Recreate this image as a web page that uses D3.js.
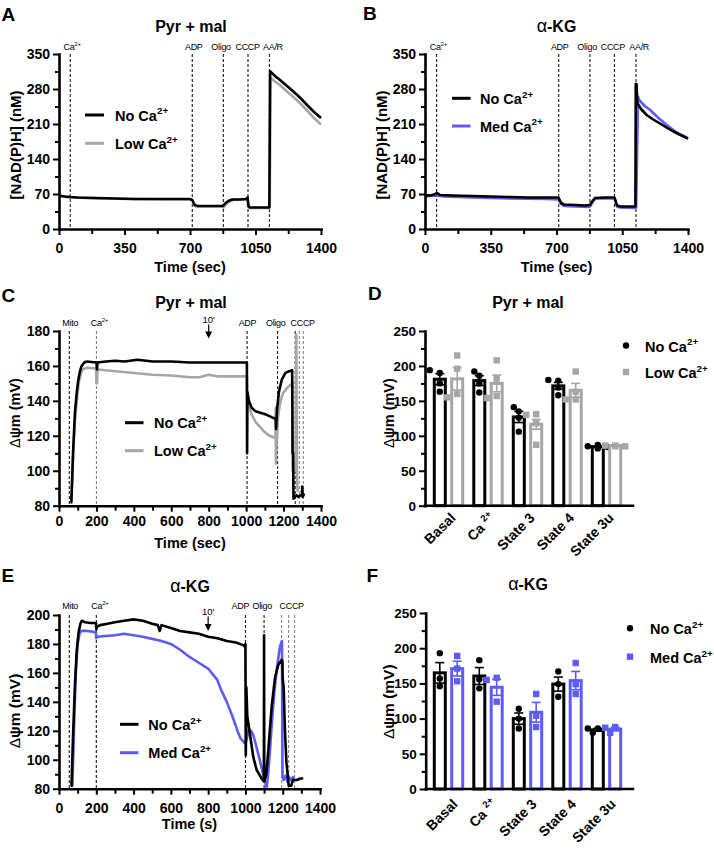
<!DOCTYPE html>
<html><head><meta charset="utf-8">
<script src="https://cdn.jsdelivr.net/npm/d3@7"></script>
<style>body{margin:0;background:#fff}svg{display:block}</style>
</head><body><svg id="fig" width="714" height="849"></svg>
<script>
// ---------------- DATA ----------------
// Panel A: NAD(P)H, Pyr + mal  [time s, nM]
const nadhPyrNoCa = [[0,67],[30,65],[60,64],[100,63],[200,62],[300,61],[400,60],[500,60],[600,60],[700,60],[712,58],[725,48],[740,46],[800,46],[870,46],[878,47],[890,52],[905,56],[925,59],[960,59],[1000,60],[1008,63],[1012,46],[1020,43],[1060,43],[1120,43],[1124,44],[1128,316],[1140,311],[1160,304],[1181,298],[1215,287],[1252,275],[1290,262],[1323,249],[1360,235],[1400,222]];
const nadhPyrLowCa = [[0,66],[60,63],[200,61],[400,60],[600,59],[700,59],[712,57],[725,47],[740,45],[870,45],[880,43],[895,50],[910,55],[930,58],[1000,59],[1008,61],[1012,45],[1020,42],[1120,42],[1126,43],[1130,303],[1150,296],[1181,288],[1215,276],[1252,264],[1290,251],[1323,238],[1360,223],[1400,209]];
// Panel B: NAD(P)H, alpha-KG
const nadhKgNoCa = [[0,68],[30,67],[55,70],[65,72],[80,68],[150,67],[250,66],[350,65],[450,64],[550,63],[650,63],[700,63],[712,62],[725,52],[740,49],[800,48],[850,47],[878,48],[890,55],[905,62],[950,63],[1005,63],[1010,62],[1022,47],[1040,45],[1100,45],[1120,45],[1122,290],[1126,290],[1130,252],[1150,240],[1180,228],[1215,219],[1251,211],[1290,202],[1322,195],[1360,188],[1400,181]];
const nadhKgMedCa = [[0,65],[60,67],[100,65],[250,63],[450,61],[650,60],[710,59],[725,50],[740,46],[800,45],[870,44],[880,46],[895,56],[910,61],[1005,61],[1012,58],[1022,45],[1040,43],[1120,42],[1124,44],[1134,265],[1140,258],[1170,246],[1199,238],[1240,223],[1287,208],[1340,193],[1400,181]];
// Panel C: membrane potential, Pyr + mal [time s, mV]
const dpsiPyrNoCa = [[62,82],[66,82],[75,110],[85,133],[95,145],[103,152],[112,157],[121,160],[135,162],[148,162.5],[200,162],[203,158],[206,162],[250,162.5],[300,163],[350,162.5],[420,163.5],[500,162.5],[600,162.5],[700,162],[800,162],[900,162],[1000,162],[1004,162],[1005,110],[1007,145],[1015,140],[1030,136],[1050,134],[1080,133],[1110,132],[1150,130],[1158,130],[1160,124],[1165,135],[1175,145],[1190,152],[1210,156],[1230,157],[1246,157.5],[1248,110],[1251,110],[1253,84],[1260,85],[1270,86],[1280,85],[1290,86],[1298,86],[1300,91],[1302,85],[1310,87]];
const dpsiPyrLowCa = [[62,82],[66,82],[75,108],[85,128],[95,140],[105,150],[115,155],[125,158],[150,159],[198,158.5],[200,150],[203,150],[206,158],[250,157.5],[300,157],[400,156],[500,155],[600,154.5],[700,153.5],[750,153.5],[800,155],[850,154],[900,154],[1000,154],[1004,154],[1006,140],[1015,137],[1030,132],[1050,128],[1075,125],[1100,122],[1125,120],[1150,119],[1157,119],[1158,136],[1159,104],[1162,115],[1170,130],[1180,138],[1195,144],[1215,147],[1235,149],[1247,150],[1249,100],[1265,100],[1268,178],[1271,100],[1275,88]];
// Panel E: membrane potential, alpha-KG
const dpsiKgNoCa = [[63,82],[67,82],[75,115],[85,150],[95,175],[105,188],[115,194],[122,196],[140,195],[170,194.5],[198,194.5],[200,190],[205,192],[220,193],[260,194],[300,195],[350,196],[400,197],[450,196],[500,194],[530,193],[540,189],[550,193],[600,191],[650,189],[700,188],[750,187],[800,185],[850,184],[900,182],[950,181],[990,179],[998,178],[1000,180],[1002,103],[1005,150],[1010,130],[1024,118],[1042,102],[1060,93],[1087,87],[1099,85],[1100,186],[1101,85],[1112,90],[1123,107],[1141,137],[1159,157],[1176,165.5],[1194,169],[1198,168],[1200,156],[1205,150],[1212,120],[1220,98],[1228,88],[1232,82],[1245,82],[1255,86],[1275,86],[1295,87],[1310,87]];
const dpsiKgMedCa = [[68,82],[72,82],[80,120],[90,160],[100,180],[110,187],[120,189],[150,189],[180,188.5],[198,188],[200,184],[205,185],[250,185.5],[300,186],[350,187],[400,186],[450,185],[500,183.5],[550,182],[600,180],[650,176],[700,171],[750,167],[800,163],[850,155],[867,149],[900,140],[933,129],[960,119],[973,115],[1000,111],[1010,116],[1018,121],[1030,120],[1042,117],[1055,111],[1069,104],[1082,97],[1096,89.5],[1114,80.5],[1123,92],[1132,107],[1141,124],[1150,139],[1159,152],[1168,162],[1177,171],[1185,178],[1194,181.6],[1196,182],[1199,88],[1205,86],[1215,89],[1225,85],[1235,88],[1245,86],[1255,88],[1260,86]];

// Bar charts
const categories = ["Basal","Ca ^2+","State 3","State 4","State 3u"];
// Panel D (Pyr + mal)
const pyrNoCaMean = [181,179,127,171.5,84.5];
const pyrNoCaSem  = [8,7,8,5,1];
const pyrNoCaPts  = [[190,194,175,163],[186,192,175,162],[135,141,126,106],[179,180,169,158],[87,85,84,82]];
const pyrLowCaMean = [181.5,175,116.5,165,86];
const pyrLowCaSem  = [16,12,7,10,0.5];
const pyrLowCaPts  = [[215,196,160,155],[208,182,157,154],[131,130,118,87],[192,163,152,152],[86,86,85,85]];
// Panel F (alpha-KG)
const kgNoCaMean = [165,160.5,100,149,84];
const kgNoCaSem  = [14.5,12,8,10,2];
const kgNoCaPts  = [[193,157,146],[183,156,143],[114,100,86],[167,149,131],[86,86,80]];
const kgMedCaMean = [171,144.5,109,154,85];
const kgMedCaSem  = [10.5,11.5,14,13,2.5];
const kgMedCaPts  = [[189,171,153],[158,155,124],[135,104,88],[179,149,135],[88,87,80]];

// Ticks
const nadhTicks = [0,70,140,210,280,350];
const nadhTimeTicks = [0,350,700,1050,1400];
const dpsiPyrTicks = [80,100,120,140,160,180];
const dpsiKgTicks = [80,100,120,140,160,180,200];
const timeTicks = [0,200,400,600,800,1000,1200,1400];
const barTicks = [0,50,100,150,200,250];

// Events
const eventsA = [{t:60,l:"Ca^2+",lt:70},{t:712,l:"ADP",lt:720},{t:878,l:"Oligo",lt:866},{t:1010,l:"CCCP",lt:1008},{t:1124,l:"AA/R",lt:1143}];
const eventsB = [{t:62,l:"Ca^2+",lt:71},{t:712,l:"ADP",lt:717},{t:878,l:"Oligo",lt:863},{t:1008,l:"CCCP",lt:1000},{t:1123,l:"AA/R",lt:1140}];
const eventsC = [{t:55,l:"Mito",lt:60},{t:200,l:"Ca^2+",lt:216,c:"#777"},{t:1005,l:"ADP",lt:1007},{t:1168,l:"Oligo",lt:1158},{t:1262},{t:1284,c:"#777"},{t:1305,l:"CCCP",lt:1302,c:"#777"}];
const eventsE = [{t:55,l:"Mito",lt:60},{t:200,l:"Ca^2+",lt:220},{t:1000,l:"ADP",lt:973},{t:1100,l:"Oligo",lt:1090},{t:1194,c:"#777"},{t:1232,l:"CCCP",lt:1248,c:"#777"},{t:1264,c:"#777"}];

// ---------------- DRAWING ----------------
const FONT = '"Liberation Sans", Arial, Helvetica, sans-serif';
const BLACK = "#000", GREY = "#a6a6a6", BLUE = "#5c5cf6";
const svg = d3.select("#fig").attr("font-family", FONT);
svg.append("rect").attr("width",714).attr("height",849).attr("fill","#fff");

function parse(s){ const [a,b] = s.split("^"); return b!==undefined ? [a,{t:b,sup:true}] : [a]; }
function txt(g, x, y, parts, o){
  const t = g.append("text").attr("x",x).attr("y",y).attr("font-size",o.fs)
    .attr("font-weight",o.bold?"bold":"normal").attr("text-anchor",o.anchor||"start").attr("fill",o.fill||"#000");
  if (o.rotate) t.attr("transform",`rotate(${o.rotate},${x},${y})`);
  if (o.ls) t.attr("letter-spacing", o.ls);
  let shift = 0;
  parts.forEach(p => {
    if (typeof p === "string") p = {t:p};
    const s = t.append("tspan").text(p.t);
    if (p.sup) { s.attr("font-size", o.fs*0.68).attr("dy", -o.fs*0.42); shift = o.fs*0.42; }
    else if (shift) { s.attr("dy", shift); shift = 0; }
    if (p.w) s.attr("font-weight", p.w);
    if (p.fs) s.attr("font-size", p.fs);
  });
  return t;
}
const fmt = d => String(d);
function styleAxis(a, fs){
  a.attr("font-family",FONT).attr("font-size",fs).attr("font-weight","bold");
  a.selectAll(".domain").attr("stroke-width",2.6).attr("stroke-linecap","square");
  a.selectAll(".tick line").attr("stroke-width",2);
  a.selectAll("text").attr("fill","#000");
}
function yAxis(g, y, x0, ticks, minor, fs, pad){
  const a = g.append("g").attr("transform",`translate(${x0},0)`)
    .call(d3.axisLeft(y).tickValues(ticks).tickFormat(fmt).tickSize(6).tickSizeOuter(0).tickPadding(pad));
  styleAxis(a, fs);
  const m = g.append("g").attr("transform",`translate(${x0},0)`)
    .call(d3.axisLeft(y).tickValues(minor).tickSize(4).tickFormat(""));
  m.select(".domain").remove(); m.selectAll(".tick line").attr("stroke-width",2);
}
function xAxis(g, x, yb, ticks, minor, fs, pad){
  const a = g.append("g").attr("transform",`translate(0,${yb})`)
    .call(d3.axisBottom(x).tickValues(ticks).tickFormat(fmt).tickSize(6).tickSizeOuter(0).tickPadding(pad));
  styleAxis(a, fs);
  if (minor){
    const m = g.append("g").attr("transform",`translate(0,${yb})`)
      .call(d3.axisBottom(x).tickValues(minor).tickSize(5).tickFormat(""));
    m.select(".domain").remove(); m.selectAll(".tick line").attr("stroke-width",2);
  }
}
function minorOf(ticks, n){ const r=[]; for(let i=0;i<ticks.length-1;i++){ const s=(ticks[i+1]-ticks[i])/n; for(let k=1;k<n;k++) r.push(ticks[i]+k*s);} return r; }
function yTitle(g, x, y, kind, fs){
  if (kind==="nadh") txt(g, x, y, ["[NAD(P)H] (nM)"], {fs, bold:true, anchor:"middle", rotate:-90});
  else txt(g, x, y, [{t:"Δ",w:"normal"},"ψm (mV)"], {fs, bold:true, anchor:"middle", rotate:-90});
}
function title(g, x, y, kind){
  if (kind==="kg") txt(g, x, y, [{t:"α",w:"normal",fs:18},"-KG"], {fs:16, bold:true, anchor:"middle"});
  else txt(g, x, y, ["Pyr + mal"], {fs:16, bold:true, anchor:"middle"});
}

function linePanel(p){
  const g = svg.append("g");
  const x = d3.scaleLinear().domain(p.xDomain).range([p.x0,p.x1]);
  const y = d3.scaleLinear().domain(p.yDomain).range([p.yBot,p.yTop]);
  p.events.forEach(e => {
    g.append("line").attr("x1",x(e.t)).attr("x2",x(e.t)).attr("y1",p.yTop).attr("y2",p.yBot)
      .attr("stroke",e.c||"#000").attr("stroke-width",1).attr("stroke-dasharray","3,2");
    if (e.l) txt(g, x(e.lt ?? e.t), p.yTop + p.evDy, parse(e.l), {fs:9, anchor:"middle", ls:-0.3});
  });
  if (p.arrow){
    const ax = x(p.arrow.t);
    txt(g, ax, p.arrow.ly, ["10'"], {fs:9.5, anchor:"middle"});
    g.append("line").attr("x1",ax).attr("x2",ax).attr("y1",p.arrow.y1).attr("y2",p.arrow.y2-5).attr("stroke","#000").attr("stroke-width",1.2);
    g.append("path").attr("d",`M${ax-3.5},${p.arrow.y2-7}L${ax+3.5},${p.arrow.y2-7}L${ax},${p.arrow.y2}Z`).attr("fill","#000");
  }
  const line = d3.line().x(d=>x(d[0])).y(d=>y(d[1]));
  p.series.forEach(s => g.append("path").datum(s.data).attr("d",line).attr("fill","none")
    .attr("stroke",s.color).attr("stroke-width",2.6).attr("stroke-linejoin","round"));
  yAxis(g, y, p.x0, p.yTicks, minorOf(p.yTicks,2), 14, 3);
  xAxis(g, x, p.yBot, p.xTicks, minorOf(p.xTicks,2), 14, p.xPad);
  p.legend.items.forEach((it,i) => {
    const ly = p.legend.y + i*p.legend.dy;
    g.append("line").attr("x1",p.legend.x).attr("x2",p.legend.x+p.legend.len).attr("y1",ly).attr("y2",ly)
      .attr("stroke",it.color).attr("stroke-width",3);
    txt(g, p.legend.tx, ly+5.5, parse(it.label), {fs:14.5, bold:true});
  });
  title(g, p.titleX, p.titleY, p.kind);
  yTitle(g, p.ytX, p.ytY, p.ytKind, p.ytFs);
  txt(g, (p.x0+p.x1)/2, p.xtY, [p.xTitle], {fs:14.5, bold:true, anchor:"middle"});
  txt(g, p.letter.x, p.letter.y, [p.letter.t], {fs:19, bold:true});
}

function barPanel(p){
  const g = svg.append("g");
  const band = d3.scaleBand().domain(categories).range([p.bandL,p.bandR]);
  const y = d3.scaleLinear().domain([0,250]).range([p.yBot,p.yTop]);
  const bw = 11;
  p.series.forEach(s => {
    categories.forEach((c,i) => {
      const cx = band(c) + band.bandwidth()/2 + s.off;
      const m = s.mean[i], e = s.sem[i];
      g.append("rect").attr("x",cx-bw/2).attr("y",y(m)).attr("width",bw).attr("height",y(0)-y(m))
        .attr("fill","#fff").attr("stroke",s.color).attr("stroke-width",3);
      g.append("line").attr("x1",cx).attr("x2",cx).attr("y1",y(m-e)).attr("y2",y(m+e)).attr("stroke",s.color).attr("stroke-width",1.6);
      g.append("line").attr("x1",cx-4.5).attr("x2",cx+4.5).attr("y1",y(m+e)).attr("y2",y(m+e)).attr("stroke",s.color).attr("stroke-width",1.6);
      g.append("line").attr("x1",cx-4.5).attr("x2",cx+4.5).attr("y1",y(m-e)).attr("y2",y(m-e)).attr("stroke",s.color).attr("stroke-width",1.6);
      const placed = [];
      s.pts[i].forEach(v => {
        const py = y(v);
        let dx = 0;
        for (const cand of [0,-5,5,-10,10]) {
          if (placed.every(q => Math.hypot(q[0]-cand, q[1]-py) >= 6.2)) { dx = cand; break; }
        }
        placed.push([dx,py]);
        if (s.shape==="circle") g.append("circle").attr("cx",cx+dx).attr("cy",py).attr("r",3.2).attr("fill",s.color);
        else g.append("rect").attr("x",cx+dx-3.2).attr("y",py-3.2).attr("width",6.4).attr("height",6.4).attr("fill",s.color);
      });
    });
  });
  yAxis(g, y, p.x0, barTicks, minorOf(barTicks,2), 13.5, 3);
  g.append("line").attr("x1",p.x0).attr("x2",p.x1).attr("y1",p.yBot).attr("y2",p.yBot).attr("stroke","#000").attr("stroke-width",2.6).attr("stroke-linecap","square");
  categories.forEach(c => {
    const cx = band(c) + band.bandwidth()/2;
    txt(g, cx + p.lab.dx, p.yBot + p.lab.dy, parse(c), {fs:14, bold:true, anchor:"end", rotate:-45});
  });
  p.series.forEach((s,i) => {
    const ly = p.legend.y + i*p.legend.dy;
    if (s.shape==="circle") g.append("circle").attr("cx",p.legend.x).attr("cy",ly).attr("r",3.2).attr("fill",s.color);
    else g.append("rect").attr("x",p.legend.x-3.2).attr("y",ly-3.2).attr("width",6.4).attr("height",6.4).attr("fill",s.color);
    txt(g, p.legend.tx, ly+6, parse(s.label), {fs:14.5, bold:true});
  });
  title(g, p.titleX, p.titleY, p.kind);
  yTitle(g, p.ytX, p.ytY, "dpsi", p.ytFs);
  txt(g, p.letter.x, p.letter.y, [p.letter.t], {fs:19, bold:true});
}

// Panel A
linePanel({x0:59,x1:321,yTop:54,yBot:229,xDomain:[0,1400],yDomain:[0,350],xTicks:nadhTimeTicks,yTicks:nadhTicks,xPad:8,
  events:eventsA, evDy:-4,
  series:[{data:nadhPyrLowCa,color:GREY},{data:nadhPyrNoCa,color:BLACK}],
  legend:{x:85,len:19,y:115,dy:28.3,tx:115,items:[{color:BLACK,label:"No Ca^2+"},{color:GREY,label:"Low Ca^2+"}]},
  kind:"pyr",titleX:191,titleY:31.5, ytKind:"nadh", ytX:21, ytY:145, ytFs:15, xTitle:"Time (sec)", xtY:272,
  letter:{t:"A",x:1.5,y:20.7}});
// Panel B
linePanel({x0:425,x1:688,yTop:54,yBot:229,xDomain:[0,1400],yDomain:[0,350],xTicks:nadhTimeTicks,yTicks:nadhTicks,xPad:8,
  events:eventsB, evDy:-4,
  series:[{data:nadhKgMedCa,color:BLUE},{data:nadhKgNoCa,color:BLACK}],
  legend:{x:452,len:18.5,y:98.3,dy:27.7,tx:480,items:[{color:BLACK,label:"No Ca^2+"},{color:BLUE,label:"Med Ca^2+"}]},
  kind:"kg",titleX:556.5,titleY:31.5, ytKind:"nadh", ytX:387, ytY:145, ytFs:15, xTitle:"Time (sec)", xtY:272,
  letter:{t:"B",x:363,y:20}});
// Panel C
linePanel({x0:59,x1:321,yTop:331,yBot:505.7,xDomain:[0,1400],yDomain:[80,180],xTicks:timeTicks,yTicks:dpsiPyrTicks,xPad:4,
  events:eventsC, evDy:-5, arrow:{t:800, ly:322.7, y1:324.5, y2:338.5},
  series:[{data:dpsiPyrLowCa,color:GREY},{data:dpsiPyrNoCa,color:BLACK}],
  legend:{x:125,len:18.5,y:422.7,dy:28,tx:154,items:[{color:BLACK,label:"No Ca^2+"},{color:GREY,label:"Low Ca^2+"}]},
  kind:"pyr",titleX:191,titleY:308.3, ytKind:"dpsi", ytX:19.5, ytY:413, ytFs:14.5, xTitle:"Time (sec)", xtY:548,
  letter:{t:"C",x:1.5,y:301.7}});
// Panel E
linePanel({x0:59,x1:320,yTop:615,yBot:788.7,xDomain:[0,1400],yDomain:[80,200],xTicks:timeTicks,yTicks:dpsiKgTicks,xPad:8,
  events:eventsE, evDy:-6, arrow:{t:800, ly:614.5, y1:616.5, y2:631},
  series:[{data:dpsiKgMedCa,color:BLUE},{data:dpsiKgNoCa,color:BLACK}],
  legend:{x:120,len:18.5,y:724.3,dy:28.4,tx:148.3,items:[{color:BLACK,label:"No Ca^2+"},{color:BLUE,label:"Med Ca^2+"}]},
  kind:"kg",titleX:190,titleY:591.7, ytKind:"dpsi", ytX:19.5, ytY:711, ytFs:15.5, xTitle:"Time (s)", xtY:829,
  letter:{t:"E",x:1.5,y:581.7}});
// Panel D
barPanel({x0:425,x1:633,yTop:331,yBot:505.7,bandL:428.75,bandR:626.25,
  series:[{mean:pyrNoCaMean,sem:pyrNoCaSem,pts:pyrNoCaPts,color:BLACK,shape:"circle",off:-8.7,label:"No Ca^2+"},
          {mean:pyrLowCaMean,sem:pyrLowCaSem,pts:pyrLowCaPts,color:GREY,shape:"square",off:8.7,label:"Low Ca^2+"}],
  lab:{dx:8,dy:13}, legend:{x:626,y:345.5,dy:26.5,tx:645},
  kind:"pyr",titleX:528,titleY:308.3, ytX:394, ytY:413, ytFs:14.5, letter:{t:"D",x:368,y:300}});
// Panel F
barPanel({x0:425.7,x1:633,yTop:613,yBot:789,bandL:428.75,bandR:626.25,
  series:[{mean:kgNoCaMean,sem:kgNoCaSem,pts:kgNoCaPts,color:BLACK,shape:"circle",off:-8.7,label:"No Ca^2+"},
          {mean:kgMedCaMean,sem:kgMedCaSem,pts:kgMedCaPts,color:BLUE,shape:"square",off:8.7,label:"Med Ca^2+"}],
  lab:{dx:10,dy:16}, legend:{x:630,y:628.3,dy:28.4,tx:650},
  kind:"kg",titleX:528,titleY:590, ytX:394.5, ytY:701.7, ytFs:15.5, letter:{t:"F",x:366.5,y:581.7}});
</script></body></html>
